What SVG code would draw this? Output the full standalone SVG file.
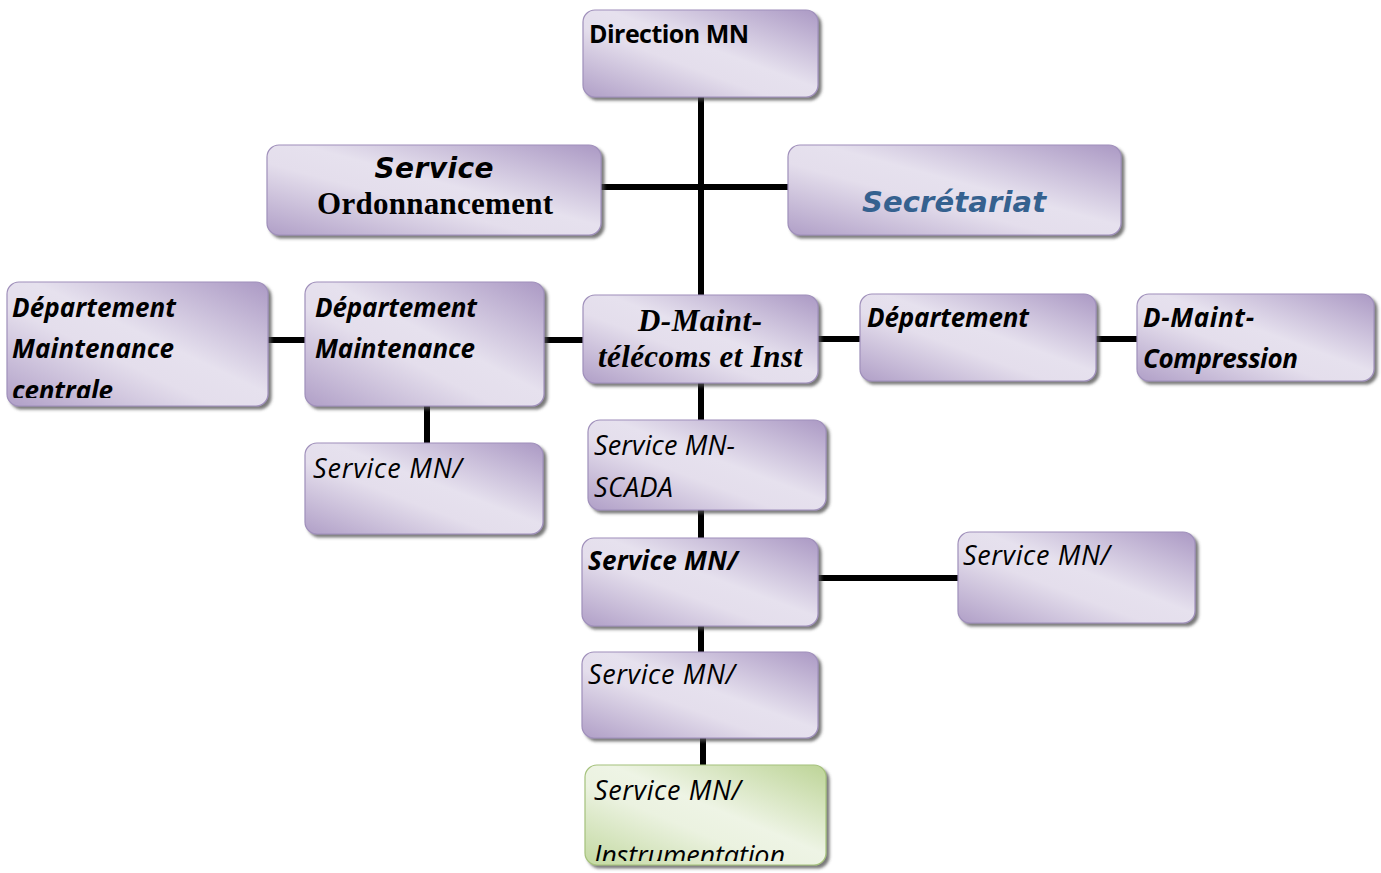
<svg xmlns="http://www.w3.org/2000/svg" width="1381" height="873" viewBox="0 0 1381 873">
  <defs>
    <linearGradient id="lav" x1="1" y1="0" x2="0" y2="1">
      <stop offset="0" stop-color="#ab99c4"/>
      <stop offset="0.45" stop-color="#e6e1ee"/>
      <stop offset="0.6" stop-color="#e4deec"/>
      <stop offset="1" stop-color="#b09fc7"/>
    </linearGradient>
    <linearGradient id="grn" x1="1" y1="0" x2="0" y2="1">
      <stop offset="0" stop-color="#bdd497"/>
      <stop offset="0.45" stop-color="#eef4e5"/>
      <stop offset="0.6" stop-color="#ebf2e0"/>
      <stop offset="1" stop-color="#c3d9a1"/>
    </linearGradient>
    <filter id="shadow" x="-5%" y="-10%" width="115%" height="130%">
      <feDropShadow dx="3" dy="3" stdDeviation="1.5" flood-color="#4d4d4d" flood-opacity="0.75"/>
    </filter>
    <clipPath id="clip-dmc"><rect x="7" y="282" width="261" height="116"/></clipPath>
    <clipPath id="clip-green"><rect x="585" y="765" width="241" height="96"/></clipPath>
  </defs>
  <style>
    .box { fill: url(#lav); stroke: #a090bb; stroke-width: 1.2; filter: url(#shadow); }
    .box.green { fill: url(#grn); stroke: #a6c27d; }
    .link { stroke: #000000; stroke-width: 6; fill: none; }
    .cal { font-family: "Open Sans", "Noto Sans", sans-serif; fill: #000000; }
    .bi { font-weight: bold; font-style: italic; font-size: 26px; }
    .b { font-weight: bold; }
    .i { font-style: italic; font-size: 27px; }
    .ver { font-family: "DejaVu Sans", "Liberation Sans", sans-serif; font-weight: bold; font-style: italic; }
    .tim { font-family: "Liberation Serif", "Times New Roman", serif; font-weight: bold; fill: #000000; }
  </style>

  <!-- connectors -->
  <g id="connectors">
    <line class="link" x1="701" y1="97" x2="701" y2="295"/>
    <line class="link" x1="601" y1="187" x2="788" y2="187"/>
    <line class="link" x1="268" y1="340" x2="305" y2="340"/>
    <line class="link" x1="544" y1="340" x2="583" y2="340"/>
    <line class="link" x1="818" y1="339" x2="860" y2="339"/>
    <line class="link" x1="1096" y1="339" x2="1137" y2="339"/>
    <line class="link" x1="427" y1="406" x2="427" y2="443"/>
    <line class="link" x1="701" y1="383" x2="701" y2="420"/>
    <line class="link" x1="701" y1="510" x2="701" y2="538"/>
    <line class="link" x1="701" y1="626" x2="701" y2="652"/>
    <line class="link" x1="703" y1="738" x2="703" y2="765"/>
    <line class="link" x1="818" y1="578" x2="958" y2="578"/>
  </g>

  <g id="direction-mn">
    <rect class="box" x="583" y="10" width="235" height="87" rx="12"/>
    <text class="cal b" x="589" y="43" font-size="25" textLength="160">Direction MN</text>
  </g>

  <g id="service-ordonnancement">
    <rect class="box" x="267" y="145" width="334" height="90" rx="12"/>
    <text class="ver" x="434" y="178" font-size="28" text-anchor="middle" textLength="119">Service</text>
    <text class="tim" x="435" y="214" font-size="31" text-anchor="middle" textLength="236">Ordonnancement</text>
  </g>

  <g id="secretariat">
    <rect class="box" x="788" y="145" width="333" height="90" rx="12"/>
    <text class="ver" x="954" y="212" font-size="29" text-anchor="middle" fill="#35618f" textLength="184">Secrétariat</text>
  </g>

  <g id="dept-maintenance-centrale">
    <rect class="box" x="7" y="282" width="261" height="124" rx="12"/>
    <g clip-path="url(#clip-dmc)">
      <text class="cal bi" x="12" y="317" textLength="164">Département</text>
      <text class="cal bi" x="12" y="358" textLength="162">Maintenance</text>
      <text class="cal bi" x="12" y="400" textLength="101">centrale</text>
    </g>
  </g>

  <g id="dept-maintenance">
    <rect class="box" x="305" y="282" width="239" height="124" rx="12"/>
    <text class="cal bi" x="315" y="317" textLength="162">Département</text>
    <text class="cal bi" x="315" y="358" textLength="160">Maintenance</text>
  </g>

  <g id="d-maint-telecoms">
    <rect class="box" x="583" y="295" width="235" height="88" rx="12"/>
    <text class="tim" x="700" y="331" font-size="31" font-style="italic" text-anchor="middle" textLength="124">D-Maint-</text>
    <text class="tim" x="700" y="367" font-size="31" font-style="italic" text-anchor="middle" textLength="204">télécoms et Inst</text>
  </g>

  <g id="departement-right">
    <rect class="box" x="860" y="294" width="236" height="87" rx="12"/>
    <text class="cal bi" x="867" y="327" textLength="162">Département</text>
  </g>

  <g id="d-maint-compression">
    <rect class="box" x="1137" y="294" width="237" height="87" rx="12"/>
    <text class="cal bi" x="1143" y="327" textLength="111">D-Maint-</text>
    <text class="cal bi" x="1143" y="368" textLength="155">Compression</text>
  </g>

  <g id="service-mn-left">
    <rect class="box" x="305" y="443" width="238" height="91" rx="12"/>
    <text class="cal i" x="313" y="478" textLength="149">Service MN/</text>
  </g>

  <g id="service-mn-scada">
    <rect class="box" x="588" y="420" width="238" height="90" rx="12"/>
    <text class="cal i" x="594" y="455" textLength="141">Service MN-</text>
    <text class="cal i" x="594" y="497" textLength="79">SCADA</text>
  </g>

  <g id="service-mn-bold">
    <rect class="box" x="582" y="538" width="236" height="88" rx="12"/>
    <text class="cal bi" x="588" y="570" textLength="150">Service MN/</text>
  </g>

  <g id="service-mn-right">
    <rect class="box" x="958" y="532" width="237" height="91" rx="12"/>
    <text class="cal i" x="963" y="565" textLength="147">Service MN/</text>
  </g>

  <g id="service-mn-fourth">
    <rect class="box" x="582" y="652" width="236" height="86" rx="12"/>
    <text class="cal i" x="588" y="684" textLength="147">Service MN/</text>
  </g>

  <g id="service-mn-instrumentation">
    <rect class="box green" x="585" y="765" width="241" height="100" rx="12"/>
    <g clip-path="url(#clip-green)">
      <text class="cal i" x="594" y="800" textLength="147">Service MN/</text>
      <text class="cal i" x="594" y="865" textLength="191">Instrumentation</text>
    </g>
  </g>
</svg>
